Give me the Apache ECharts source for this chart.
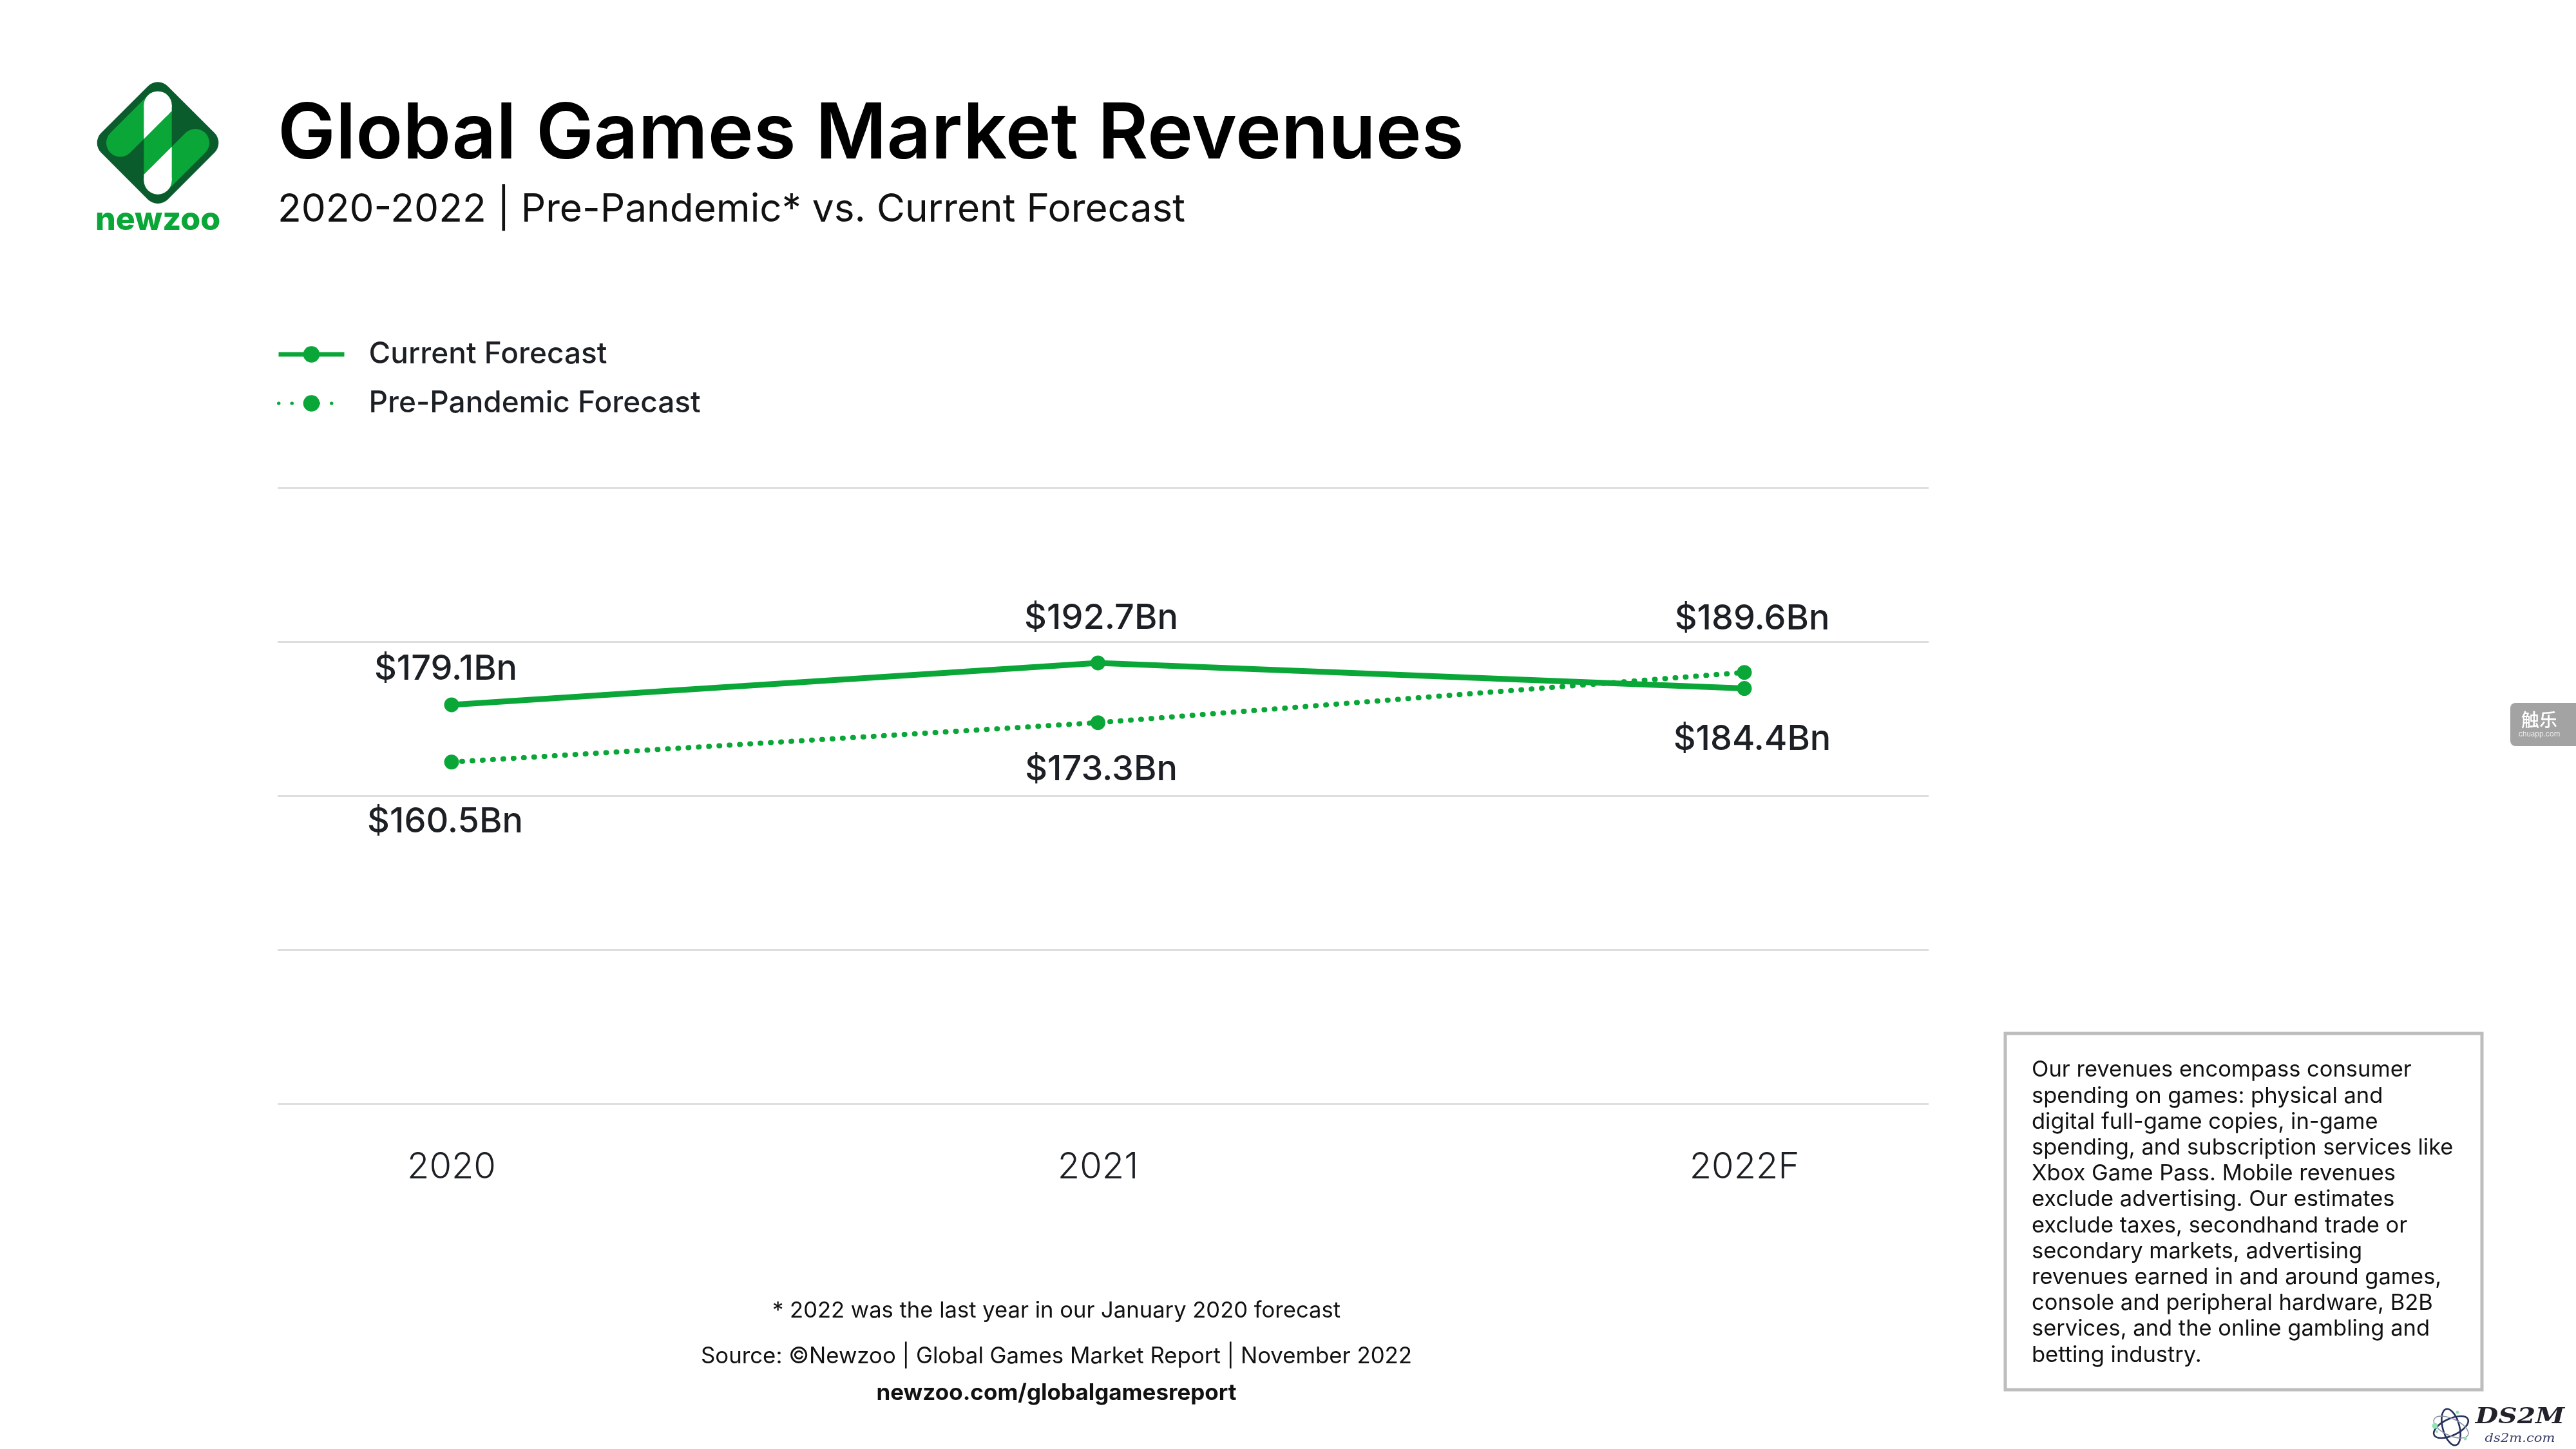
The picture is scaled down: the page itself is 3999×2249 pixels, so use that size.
<!DOCTYPE html>
<html><head><meta charset="utf-8">
<style>html,body{margin:0;padding:0;background:#fff}#c{width:3999px;height:2249px}</style>
<script src="https://cdn.jsdelivr.net/npm/echarts@6/dist/echarts.min.js"></script>
</head><body><div id="c"></div>
<script>
const categories = ['2020','2021','2022F'];
const currentForecast = [179.1,192.7,184.4];
const prePandemicForecast = [160.5,173.3,189.6];
const seriesNames = ['Current Forecast','Pre-Pandemic Forecast'];
const titleText = 'Global Games Market Revenues';
const subtitleText = '2020-2022 | Pre-Pandemic* vs. Current Forecast';
const footnotes = ['* 2022 was the last year in our January 2020 forecast','Source: ©Newzoo | Global Games Market Report | November 2022','newzoo.com/globalgamesreport'];
const noteLines = ['Our revenues encompass consumer','spending on games: physical and','digital full-game copies, in-game','spending, and subscription services like','Xbox Game Pass. Mobile revenues','exclude advertising. Our estimates','exclude taxes, secondhand trade or','secondary markets, advertising','revenues earned in and around games,','console and peripheral hardware, B2B','services, and the online gambling and','betting industry.'];

const FONT='Inter', GREEN='#0aa638', DARK='#0b5c2d', INK='#1c2024';
const chart = echarts.init(document.getElementById('c'));
const T=(text,x,y,size,o={})=>({type:'text',silent:true,style:Object.assign({text,x,y,fontSize:size,fontFamily:FONT,fill:INK,textVerticalAlign:'middle',textAlign:'left'},o)});

// newzoo logo: drawn in units of 1/3 px around its centre
const U=1/3;
const P=(pts)=>pts.map(p=>[p[0]*U,p[1]*U]);
const neg=(pts)=>pts.map(p=>[-p[0],-p[1]]);
const pillA=[[0,-175],[-175,0]];
const bandGreen=[[-65,-18],[65,-148],[65,22],[-65,152]];
const bandWhite=[[-65,-175],[65,-175],[65,-148],[-65,-18]];
const logo={type:'group',x:245,y:221.67,silent:true,children:[
 {type:'polygon',shape:{points:P([[0,-218],[218,0],[0,218],[-218,0]])},style:{fill:DARK,stroke:DARK,lineWidth:130*U,lineJoin:'round'}},
 {type:'polyline',shape:{points:P(pillA)},style:{fill:'none',stroke:GREEN,lineWidth:130*U,lineCap:'round'}},
 {type:'polyline',shape:{points:P(neg(pillA))},style:{fill:'none',stroke:GREEN,lineWidth:130*U,lineCap:'round'}},
 {type:'polygon',shape:{points:P(bandGreen)},style:{fill:GREEN}},
 {type:'circle',shape:{cx:0,cy:-175*U,r:65*U},style:{fill:'#fff'}},
 {type:'polygon',shape:{points:P(bandWhite)},style:{fill:'#fff'}},
 {type:'circle',shape:{cx:0,cy:175*U,r:65*U},style:{fill:'#fff'}},
 {type:'polygon',shape:{points:P(neg(bandWhite))},style:{fill:'#fff'}}
]};

const atom={type:'group',x:3805,y:2215,silent:true,children:[
 ...[[-65,'#26305c',2.6],[15,'#26305c',2.6],[65,'#8a8fa8',1.5]].map(r=>({type:'ellipse',rotation:r[0]*Math.PI/180,shape:{cx:0,cy:0,rx:13,ry:29},style:{fill:'none',stroke:r[1],lineWidth:r[2]}})),
 ...[[-25,-2,4.5],[10,-23,2.5],[22,18,2.5],[-22,7,2]].map(d=>({type:'circle',shape:{cx:d[0],cy:d[1],r:d[2]},style:{fill:'#8fe3b4'}}))
]};
const stretched=(text,x,y,sx,style)=>({type:'group',x,y,scaleX:sx,silent:true,children:[T(text,0,0,style.fontSize,style)]});

const graphics=[
 logo,
 T('newzoo',245,342,50,{textAlign:'center',fontWeight:800,fill:GREEN}),
 T(titleText,431,210,120,{fontWeight:600,fill:'#000'}),
 T(subtitleText,431,326,60.3,{fontWeight:400,fill:'#111'}),
 {type:'rect',silent:true,shape:{x:3113,y:1604,width:740,height:553},style:{fill:'#fff',stroke:'#bdbdbd',lineWidth:5}},
 ...noteLines.map((l,i)=>T(l,3154,1661+i*40.2,34.5,{fill:'#111'})),
 T(footnotes[0],1640,2035,34.6,{textAlign:'center',fill:'#111'}),
 T(footnotes[1],1640,2106,34.8,{textAlign:'center',fill:'#111'}),
 T(footnotes[2],1640,2162,35,{textAlign:'center',fontWeight:700,fill:'#111'}),
 {type:'rect',silent:true,shape:{x:3897,y:1091,width:120,height:67,r:8},style:{fill:'#a3a3a3'}},
 T('触乐',3942,1117,28,{textAlign:'center',fill:'#fff',fontFamily:'Noto Sans CJK SC',fontWeight:500}),
 T('chuapp.com',3942,1140,11,{textAlign:'center',fill:'#eee'}),
 atom,
 stretched('DS2M',3912,2200,1.2,{textAlign:'center',fontFamily:'DejaVu Serif',fontWeight:700,fontStyle:'italic',fill:'#22222a',fontSize:34}),
 stretched('ds2m.com',3912,2233,1.17,{textAlign:'center',fontFamily:'DejaVu Serif',fontStyle:'italic',fill:'#3b3f6b',fontSize:18})
];

// label placement per point: [position, dx, dy]
const labelPlacement={
 current:[['top',-9,-12],['top',5,-26],['bottom',12,36]],
 pre:[['bottom',-10,49],['bottom',5,30],['top',12,-39]]
};
const toData=(vals,place)=>vals.map((v,i)=>({value:v,label:{position:place[i][0],offset:[place[i][1],place[i][2]]}}));
const lineSeries=(name,vals,place,lineStyle)=>({
 name,type:'line',xAxisIndex:1,yAxisIndex:1,data:toData(vals,place),symbol:'circle',symbolSize:23,
 itemStyle:{color:GREEN},lineStyle,
 label:{show:true,fontFamily:FONT,fontSize:54,fontWeight:500,color:INK,formatter:p=>'$'+p.value.toFixed(1)+'Bn'},
 animation:false
});

chart.setOption({
 backgroundColor:'#fff',animation:false,
 grid:[
  {left:431,right:3999-2994,top:757,bottom:2249-1713},
  {left:701,right:3999-2708,top:755,bottom:2249-1711}
 ],
 xAxis:[
  {type:'category',gridIndex:0,show:false,data:categories},
  {type:'category',gridIndex:1,data:categories,boundaryGap:false,axisLine:{show:false},axisTick:{show:false},
   axisLabel:{margin:73,fontFamily:FONT,fontSize:56,fontWeight:300,color:INK}}
 ],
 yAxis:[
  {type:'value',gridIndex:0,min:50,max:250,interval:50,axisLabel:{show:false},axisLine:{show:false},axisTick:{show:false},splitLine:{lineStyle:{color:'#dedede',width:3}}},
  {type:'value',gridIndex:1,min:50,max:250,interval:50,axisLabel:{show:false},axisLine:{show:false},axisTick:{show:false},splitLine:{show:false}}
 ],
 legend:{orient:'vertical',left:424,top:522,itemWidth:102,itemHeight:32,itemGap:30,
  textStyle:{fontFamily:FONT,fontSize:46,fontWeight:500,color:INK,padding:[0,0,0,33]},
  data:[
   {name:seriesNames[0],lineStyle:{width:7,opacity:1}},
   {name:seriesNames[1],lineStyle:{width:5,opacity:1,type:[0.5,20],cap:'round'}}
  ]},
 series:[
  lineSeries(seriesNames[0],currentForecast,labelPlacement.current,{color:GREEN,width:9}),
  lineSeries(seriesNames[1],prePandemicForecast,labelPlacement.pre,{color:GREEN,width:8,type:[1,15],cap:'round'})
 ],
 graphic:graphics
});
</script></body></html>
